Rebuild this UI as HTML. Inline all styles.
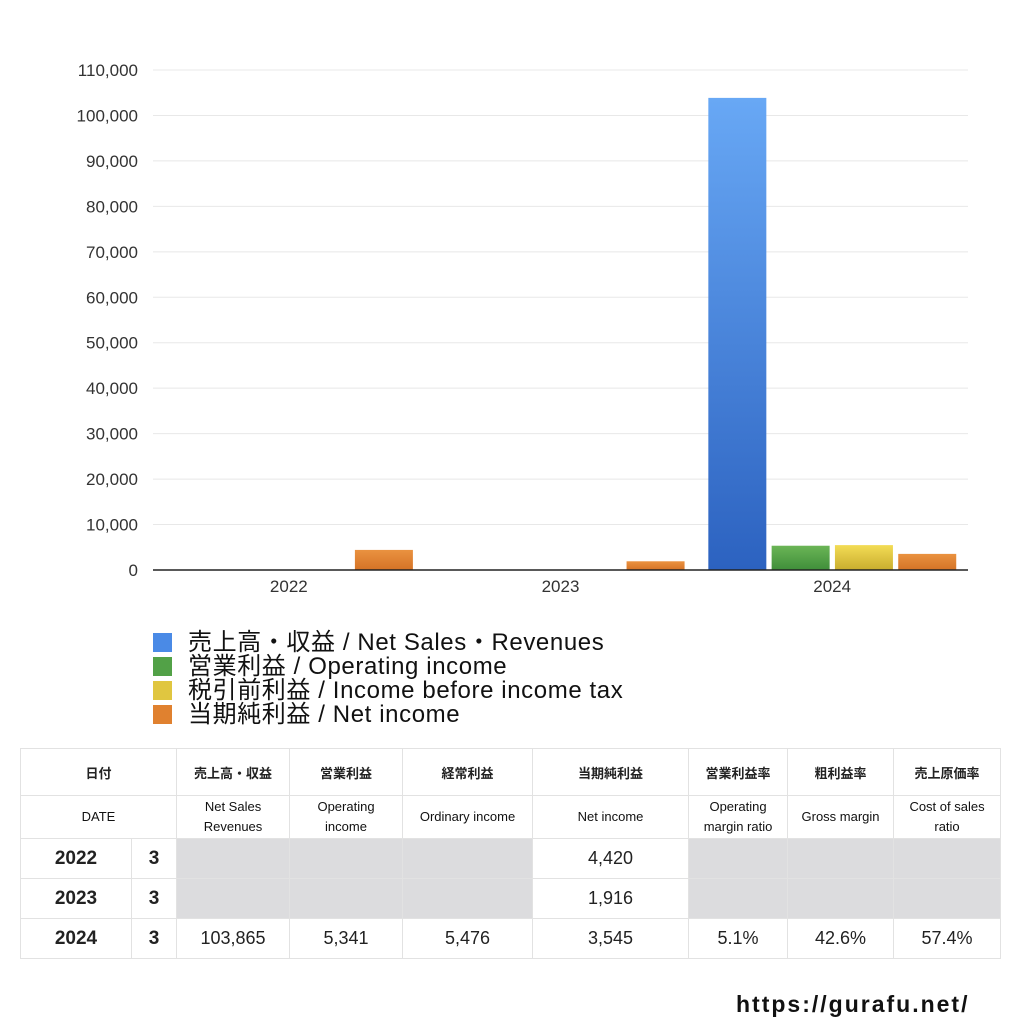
<!DOCTYPE html>
<html><head><meta charset="utf-8"><style>
body{margin:0;width:1024px;height:1024px;background:#fff;font-family:"Liberation Sans","Noto Sans CJK JP",sans-serif;position:relative;overflow:hidden}
svg{position:absolute;left:0;top:0}
table{position:absolute;left:20px;top:748px;border-collapse:collapse;table-layout:fixed;width:980px}
td{border:1px solid #e2e2e2;text-align:center;padding:0;color:#222}
.h td{font-size:13px;font-weight:bold;height:46px}
.h2 td{font-size:13px;height:42px;line-height:20px;color:#111}
.d td{font-size:18px;height:39px}
.d td.y{font-weight:bold;font-size:19px}
.g{background:#dcdcde}
.url{position:absolute;left:736px;top:991px;font-size:23px;font-weight:bold;color:#111;letter-spacing:2px}
</style></head><body>
<svg id="chart" width="1024" height="740">
<defs>
<linearGradient id="gb" x1="0" y1="0" x2="0" y2="1"><stop offset="0" stop-color="#68a8f5"/><stop offset="1" stop-color="#2c62c0"/></linearGradient>
<linearGradient id="gg" x1="0" y1="0" x2="0" y2="1"><stop offset="0" stop-color="#6bb556"/><stop offset="1" stop-color="#3f8e3a"/></linearGradient>
<linearGradient id="gy" x1="0" y1="0" x2="0" y2="1"><stop offset="0" stop-color="#f3dc55"/><stop offset="1" stop-color="#c9ad2e"/></linearGradient>
<linearGradient id="go" x1="0" y1="0" x2="0" y2="1"><stop offset="0" stop-color="#ea9240"/><stop offset="1" stop-color="#d57326"/></linearGradient>
</defs>
</svg>
<table>
<colgroup><col style="width:111px"><col style="width:45px"><col style="width:113px"><col style="width:113px"><col style="width:130px"><col style="width:156px"><col style="width:99px"><col style="width:106px"><col style="width:107px"></colgroup>
<tr class="h"><td colspan="2">日付</td><td>売上高・収益</td><td>営業利益</td><td>経常利益</td><td>当期純利益</td><td>営業利益率</td><td>粗利益率</td><td>売上原価率</td></tr>
<tr class="h2"><td colspan="2">DATE</td><td>Net Sales<br>Revenues</td><td>Operating<br>income</td><td>Ordinary income</td><td>Net income</td><td>Operating<br>margin ratio</td><td>Gross margin</td><td>Cost of sales<br>ratio</td></tr>
<tr class="d"><td class="y">2022</td><td class="y">3</td><td class="g"></td><td class="g"></td><td class="g"></td><td>4,420</td><td class="g"></td><td class="g"></td><td class="g"></td></tr>
<tr class="d"><td class="y">2023</td><td class="y">3</td><td class="g"></td><td class="g"></td><td class="g"></td><td>1,916</td><td class="g"></td><td class="g"></td><td class="g"></td></tr>
<tr class="d"><td class="y">2024</td><td class="y">3</td><td>103,865</td><td>5,341</td><td>5,476</td><td>3,545</td><td>5.1%</td><td>42.6%</td><td>57.4%</td></tr>
</table>
<div class="url">https://gurafu.net/</div>
<script>
const categories=["2022","2023","2024"];
const sales=[null,null,103865];
const operating=[null,null,5341];
const pretax=[null,null,5476];
const net=[4420,1916,3545];
const ticks=[0,10000,20000,30000,40000,50000,60000,70000,80000,90000,100000,110000];
const seriesNames=["売上高・収益 / Net Sales・Revenues","営業利益 / Operating income","税引前利益 / Income before income tax","当期純利益 / Net income"];
const NS="http://www.w3.org/2000/svg";
const svg=document.getElementById('chart');
const x0=153,x1=968,y0=570,yTop=70,yMax=110000;
const y=v=>y0-(v/yMax)*(y0-yTop);
const gw=(x1-x0)/categories.length;
function mk(t,a){const e=document.createElementNS(NS,t);for(const k in a)e.setAttribute(k,a[k]);svg.appendChild(e);return e;}
ticks.forEach(t=>{
 if(t>0){const l=mk('line',{x1:x0,x2:x1,y1:y(t),y2:y(t),stroke:'#e8e8e8'});
 
 }
 const tx=mk('text',{x:138,y:y(t)+6,'text-anchor':'end','font-size':17,fill:'#333'});
 tx.textContent=t.toLocaleString('en-US');
 
 
});
const series=[sales,operating,pretax,net];
const fills=['url(#gb)','url(#gg)','url(#gy)','url(#go)'];
const bw=58,step=63.3,off=12;
categories.forEach((c,i)=>{
 series.forEach((s,j)=>{
  const v=s[i]; if(v==null) return;
  const r=mk('rect',{x:x0+i*gw+off+j*step,y:y(v),width:bw,height:y0-y(v),fill:fills[j]});
  
  
 });
 const tx=mk('text',{x:x0+i*gw+gw/2,y:592,'text-anchor':'middle','font-size':17,fill:'#333'});
 tx.textContent=c;
 
 
});
const ax=mk('line',{x1:x0,x2:x1,y1:y0,y2:y0,stroke:'#222','stroke-width':1.5});


const lc=['#4a8ae6','#52a147','#e0c640','#e0812f'];
seriesNames.forEach((n,j)=>{
 const yy=633+j*24;
 const sw=mk('rect',{x:153,y:yy,width:19,height:19,fill:lc[j]});
 
 
 const t=mk('text',{x:188,y:yy+17,'font-size':24,'letter-spacing':0.6,fill:'#111'});
 t.textContent=n;
 
 
});
</script>
</body></html>
